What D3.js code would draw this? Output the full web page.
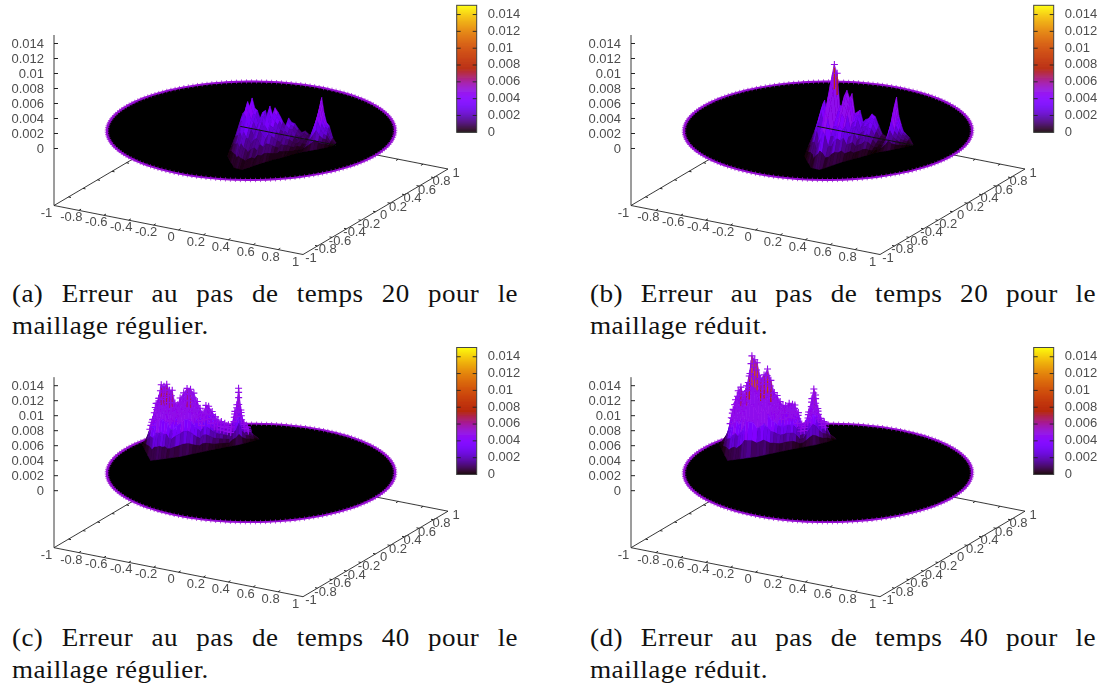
<!DOCTYPE html>
<html><head><meta charset="utf-8">
<script src="https://cdn.jsdelivr.net/npm/d3@7"></script>
<style>html,body{margin:0;padding:0;background:#fff}svg{display:block}</style>
</head><body><svg id="c" width="1108" height="688"></svg>
<script>
// ---------- values ----------
const zTicks=[0,0.002,0.004,0.006,0.008,0.01,0.012,0.014];
const zLabels=["0","0.002","0.004","0.006","0.008","0.01","0.012","0.014"];
const xyTicks=[-1,-0.8,-0.6,-0.4,-0.2,0,0.2,0.4,0.6,0.8,1];
const xyLabels=["-1","-0.8","-0.6","-0.4","-0.2","0","0.2","0.4","0.6","0.8","1"];
const cbMax=0.0151;
const boundaryValue=0.0052;
// surface footprint at step 20 (panels a, b)
const ridgeX20=[-.11,-.088,-.063,-.05,-.028,-.014,.008,.028,.05,.072,.094,.11,.129,.151,.17,.193,.215,.234,.259,.28,.303,.33,.358,.385,.413,.44,.468,.49,.509,.528,.545,.564,.583,.605,.633,.66];
const ridgeY20=[.04,.04,.04,.04,.04,.04,.04,.04,.04,.04,.04,.04,.04,.04,.04,.04,.04,.04,.04,.04,.04,.04,.04,.04,.04,.04,.04,.04,.04,.04,.04,.04,.04,.04,.04,.04];
const frontX20=[.117,.16,.2,.24,.273,.29,.31,.325,.344,.353,.362,.37,.378,.387,.396,.405,.415,.425,.435,.445,.455,.465,.475,.485,.495,.505,.513,.527,.542,.557,.572,.587,.602,.617,.632,.645];
const frontY20=[-.527,-.575,-.62,-.665,-.704,-.706,-.708,-.709,-.71,-.68,-.65,-.62,-.59,-.555,-.525,-.493,-.468,-.443,-.418,-.393,-.368,-.343,-.318,-.293,-.268,-.243,-.219,-.195,-.17,-.145,-.12,-.095,-.07,-.045,-.02,.013];
// surface footprint at step 40 (panels c, d)
const ridgeX40=[-.98,-.959,-.937,-.922,-.905,-.888,-.87,-.853,-.836,-.819,-.801,-.786,-.764,-.743,-.721,-.7,-.678,-.661,-.642,-.624,-.607,-.585,-.564,-.549,-.527,-.506,-.483,-.463,-.442,-.43,-.419,-.405,-.387,-.366,-.333,-.29];
const ridgeY40=[.28,.29,.301,.308,.316,.324,.332,.341,.349,.357,.365,.373,.383,.394,.404,.414,.424,.433,.442,.45,.458,.469,.479,.486,.496,.507,.518,.528,.537,.543,.548,.555,.563,.574,.589,.61];
const frontX40=[-.945,-.874,-.803,-.732,-.72,-.708,-.696,-.684,-.672,-.66,-.648,-.624,-.6,-.587,-.574,-.562,-.549,-.536,-.524,-.511,-.498,-.486,-.473,-.459,-.445,-.431,-.418,-.404,-.39,-.376,-.362,-.348,-.335,-.321,-.307,-.293];
const frontY40=[.12,.038,-.045,-.127,-.112,-.098,-.083,-.068,-.053,-.038,-.023,.007,.037,.061,.085,.108,.132,.156,.18,.203,.227,.25,.274,.297,.319,.342,.365,.388,.411,.433,.456,.487,.519,.55,.582,.613];
// error along the crest of each surface
const errorA=[.0002,.00184,.00236,.0035,.0027,.0041,.0028,.0026,.0016,.0025,.0028,.0016,.0035,.0024,.0034,.0029,.0023,.0017,.0013,.0024,.0019,.0018,.0012,.0008,.0011,.00076,.0006,.0016,.003,.0044,.006,.004,.0028,.0024,.0009,.0003];
const errorB=[.0002,.0014,.0032,.0037,.0018,.0043,.0061,.0087,.0076,.0034,.0033,.0049,.0056,.0046,.0053,.0027,.003,.0033,.0018,.0022,.0024,.0031,.0028,.0017,.0007,.0005,.0004,.0014,.0034,.006,.0036,.0025,.0016,.0013,.0009,.0001];
const errorC=[.0003,.0023,.0045,.0052,.007,.0068,.0071,.0063,.0063,.0046,.0044,.0053,.006,.0066,.0065,.006,.0049,.004,.0033,.0044,.0043,.0036,.0029,.0025,.0023,.0021,.0019,.0017,.0037,.0046,.0068,.0039,.0022,.0017,.0008,.0001];
const errorD=[.0001,.0012,.0037,.005,.0062,.0067,.0056,.0069,.0082,.0109,.0104,.01,.0079,.0084,.0092,.0077,.0061,.0057,.0049,.0044,.0044,.0047,.0046,.0045,.0035,.002,.0021,.0036,.0054,.0067,.0059,.0041,.0028,.0024,.0008,.0001];
// how the crest falls away towards the front of the surface
const rowDepth=[0,.1,.22,.36,.52,.68,.84,1];
const rowShare=[1,.93,.84,.72,.56,.38,.18,0];
// tone of the streaks seen running down the surface
const streakTone=[1,.86,1.1,.92,1.16,.84,1.05,.9,1.12,.96,.85,1.08];
const captions=[
 ["(a) Erreur au pas de temps 20 pour le","maillage régulier."],
 ["(b) Erreur au pas de temps 20 pour le","maillage réduit."],
 ["(c) Erreur au pas de temps 40 pour le","maillage régulier."],
 ["(d) Erreur au pas de temps 40 pour le","maillage réduit."]];

// ---------- layout ----------
const DX=577, DY=342.2;
const panels=[
 {ox:0, oy:0, err:errorA,geo:20,cut:true, mark:Infinity,cap:captions[0],cx:12, cw:197,cy:302},
 {ox:DX,oy:0, err:errorB,geo:20,cut:true, mark:.0075,   cap:captions[1],cx:590,cw:178,cy:302},
 {ox:0, oy:DY,err:errorC,geo:40,cut:false,mark:.0012,   cap:captions[2],cx:12, cw:197,cy:646},
 {ox:DX,oy:DY,err:errorD,geo:40,cut:false,mark:.0012,   cap:captions[3],cx:590,cw:178,cy:646}];

const svg=d3.select("#c");
svg.append("defs").append("filter").attr("id","soft").attr("x","-5%").attr("y","-5%").attr("width","110%").attr("height","110%")
  .append("feGaussianBlur").attr("stdDeviation",0.45);
const tickFont="'Liberation Sans',Arial,sans-serif";
const labelFill="#4d4d4d";
// gnuplot's default pm3d palette (7,5,15)
const tScale=d3.scaleLinear().domain([0,cbMax]).range([0,1]).clamp(true);
function pal(v){const t=tScale(v);return d3.rgb(255*Math.sqrt(t),255*t*t*t,255*Math.max(0,Math.sin(2*Math.PI*t))).formatHex();}
const plus=s=>`M${-s},0H${s}M0,${-s}V${s}`;
const O=[54,205.5],B=[303,254.5],R=[448,169],Z0=148,CB=[456.7,5.3];

panels.forEach(p=>{
  const g=svg.append("g").attr("filter","url(#soft)").attr("transform",`translate(${p.ox},${p.oy})`);
  const sxX=d3.scaleLinear().domain([-1,1]).range([0,B[0]-O[0]]);
  const syX=d3.scaleLinear().domain([-1,1]).range([0,B[1]-O[1]]);
  const sxY=d3.scaleLinear().domain([-1,1]).range([0,R[0]-B[0]]);
  const syY=d3.scaleLinear().domain([-1,1]).range([0,R[1]-B[1]]);
  const zAxisScale=d3.scaleLinear().domain([0,.014]).range([Z0,Z0-105]);
  const lift=O[1]-Z0-1; // the z=0 plane floats over the base of the box
  const zPx=d3.scaleLinear().domain([0,.014]).range([lift,lift+105]);
  const base=(x,y)=>[O[0]+sxX(x)+sxY(y),O[1]+syX(x)+syY(y)];
  const proj=(x,y,z)=>{const b=base(x,y);return [b[0],b[1]-zPx(z)];};

  // --- base box
  const corners=[[[-1,-1],[1,-1]],[[1,-1],[1,1]],[[-1,-1],[-1,1]],[[-1,1],[1,1]]];
  g.append("g").selectAll("line").data(corners).join("line")
    .attr("x1",d=>base(...d[0])[0]).attr("y1",d=>base(...d[0])[1])
    .attr("x2",d=>base(...d[1])[0]).attr("y2",d=>base(...d[1])[1])
    .attr("stroke","#222").attr("stroke-width",0.9);
  const tk=xyTicks.slice(1,-1);
  const tickSegs=[
    ...tk.map(v=>[[v,-1],[v,-.97]]),...tk.map(v=>[[v,1],[v,.97]]),
    ...tk.map(v=>[[-1,v],[-.98,v]]),...tk.map(v=>[[1,v],[.98,v]])];
  g.append("g").selectAll("line").data(tickSegs).join("line")
    .attr("x1",d=>base(...d[0])[0]).attr("y1",d=>base(...d[0])[1])
    .attr("x2",d=>base(...d[1])[0]).attr("y2",d=>base(...d[1])[1])
    .attr("stroke","#222").attr("stroke-width",1);

  // --- z axis
  const zAxis=d3.axisLeft(zAxisScale).tickValues(zTicks).tickFormat((d,i)=>zLabels[i]).tickSize(-4).tickPadding(10);
  const za=g.append("g").attr("transform",`translate(${O[0]},0)`).call(zAxis);
  za.select(".domain").remove();
  za.selectAll("line").attr("stroke","#222");
  za.selectAll("text").attr("font-family",tickFont).attr("font-size",13).attr("fill",labelFill);
  g.append("line").attr("x1",O[0]).attr("x2",O[0]).attr("y1",O[1]).attr("y2",Z0-113).attr("stroke","#222").attr("stroke-width",0.9);

  // --- x and y tick labels
  g.append("g").selectAll("text").data(xyTicks).join("text")
    .attr("x",d=>base(d,-1)[0]-7.5).attr("y",d=>base(d,-1)[1]+11)
    .attr("text-anchor","middle").attr("font-family",tickFont).attr("font-size",13).attr("fill",labelFill)
    .text((d,i)=>xyLabels[i]);
  g.append("g").selectAll("text").data(xyTicks).join("text")
    .attr("x",d=>base(1,d)[0]+8).attr("y",d=>base(1,d)[1]+7.5)
    .attr("text-anchor","middle").attr("font-family",tickFont).attr("font-size",13).attr("fill",labelFill)
    .text((d,i)=>xyLabels[i]);

  // --- disc of the mesh
  const rim=d3.range(0,360,2).map(a=>[Math.cos(a*Math.PI/180),Math.sin(a*Math.PI/180)]);
  const line=d3.line();
  g.append("path").attr("d",line(rim.map(d=>proj(d[0],d[1],0)))+"Z")
    .attr("fill","#000").attr("stroke",pal(boundaryValue)).attr("stroke-width",1.8);
  g.append("g").selectAll("path").data(rim).join("path")
    .attr("transform",d=>{const q=proj(d[0],d[1],0);return `translate(${q[0]},${q[1]})`;})
    .attr("d",plus(2.2)).attr("stroke",pal(boundaryValue)).attr("stroke-width",0.7).attr("fill","none");

  // --- error surface
  const rx=p.geo===20?ridgeX20:ridgeX40, ry=p.geo===20?ridgeY20:ridgeY40;
  const fx=p.geo===20?frontX20:frontX40, fy=p.geo===20?frontY20:frontY40;
  const depth=d3.scaleLinear().domain([0,1]);
  const node=(r,i)=>{
    const f=rowDepth[r];
    return {x:depth.range([rx[i],fx[i]])(f),y:depth.range([ry[i],fy[i]])(f),z:p.err[i]*rowShare[r]};
  };
  const quads=[];
  d3.range(rowDepth.length-1).forEach(r=>d3.range(p.err.length-1).forEach(i=>{
    const ns=[node(r,i),node(r,i+1),node(r+1,i+1),node(r+1,i)];
    const tone=streakTone[(i+r)%streakTone.length];
    quads.push({pts:ns.map(n=>proj(n.x,n.y,n.z)),v:Math.min(.0047,d3.mean(ns,n=>n.z)*tone*1.35)});
  }));
  g.append("g").selectAll("path").data(quads).join("path")
    .attr("d",d=>line(d.pts)+"Z").attr("fill",d=>pal(d.v)).attr("stroke",d=>pal(d.v)).attr("stroke-width",0.5);
  // spike crests coloured by their own height; only the tallest turn red
  const crest=p.err.map((e,i)=>({e,i})).filter(d=>d.e>.0062);
  g.append("g").selectAll("line").data(crest).join("line")
    .attr("x1",d=>proj(rx[d.i],ry[d.i],d.e)[0]).attr("y1",d=>proj(rx[d.i],ry[d.i],d.e)[1])
    .attr("x2",d=>proj(rx[d.i],ry[d.i],d.e*.62)[0]).attr("y2",d=>proj(rx[d.i],ry[d.i],d.e*.62)[1])
    .attr("stroke",d=>pal(d.e)).attr("stroke-width",1.2);

  // --- point markers on the tallest nodes
  const marks=[];
  [0,1,2,3].forEach(r=>p.err.forEach((e,i)=>{const n=node(r,i);if(n.z>p.mark&&(r===0||p.mark<.005))marks.push(proj(n.x,n.y,n.z));}));
  g.append("g").selectAll("path").data(marks).join("path")
    .attr("transform",d=>`translate(${d[0]},${d[1]})`).attr("d",plus(3.5))
    .attr("stroke",pal(.0048)).attr("stroke-width",1.1).attr("fill","none");

  // --- hidden-line remnant of the mesh axis
  if(p.cut){
    const a=proj(ridgeX20[0],ridgeY20[0],0),b=proj(ridgeX20[35],ridgeY20[35],0);
    g.append("line").attr("x1",a[0]).attr("y1",a[1]).attr("x2",b[0]).attr("y2",b[1]).attr("stroke","#111").attr("stroke-width",1);
  }

  // --- colour bar
  const cbH=127,cbW=20;
  const cbY=d3.scaleLinear().domain([0,cbMax]).range([CB[1]+cbH,CB[1]]);
  g.append("g").selectAll("rect").data(d3.range(0,cbMax,cbMax/cbH)).join("rect")
    .attr("x",CB[0]).attr("width",cbW).attr("y",d=>cbY(d)-1).attr("height",1.4).attr("fill",d=>pal(d));
  g.append("rect").attr("x",CB[0]).attr("y",CB[1]).attr("width",cbW).attr("height",cbH).attr("fill","none").attr("stroke","#444").attr("stroke-width",1);
  const cbAxis=d3.axisRight(cbY).tickValues(zTicks).tickFormat((d,i)=>zLabels[i]).tickSize(0).tickPadding(cbW+11);
  const ca=g.append("g").attr("transform",`translate(${CB[0]},0)`).call(cbAxis);
  ca.select(".domain").remove();
  ca.selectAll("text").attr("font-family",tickFont).attr("font-size",13).attr("fill",labelFill).attr("dy","0.22em");
  g.append("g").selectAll("path").data(zTicks.slice(1)).join("path")
    .attr("d",d=>`M${CB[0]},${cbY(d)}h4M${CB[0]+cbW},${cbY(d)}h-4`).attr("stroke","#222").attr("stroke-width",0.9);

  // --- caption, justified like the original
  const target=506;
  const cap=svg.append("g").attr("font-family","'Liberation Serif','Times New Roman',serif").attr("font-size",24.5).attr("fill","#111").attr("letter-spacing",0.4);
  const l2=cap.append("text").attr("y",32).text(p.cap[1]);
  const sx=p.cw/l2.node().getComputedTextLength();
  cap.attr("transform",`translate(${p.cx},${p.cy}) scale(${sx},1)`);
  const l1=cap.append("text").attr("y",0).text(p.cap[0]);
  const ws=(target/sx-l1.node().getComputedTextLength())/(p.cap[0].split(" ").length-1);
  l1.attr("word-spacing",ws);
});
</script></body></html>
